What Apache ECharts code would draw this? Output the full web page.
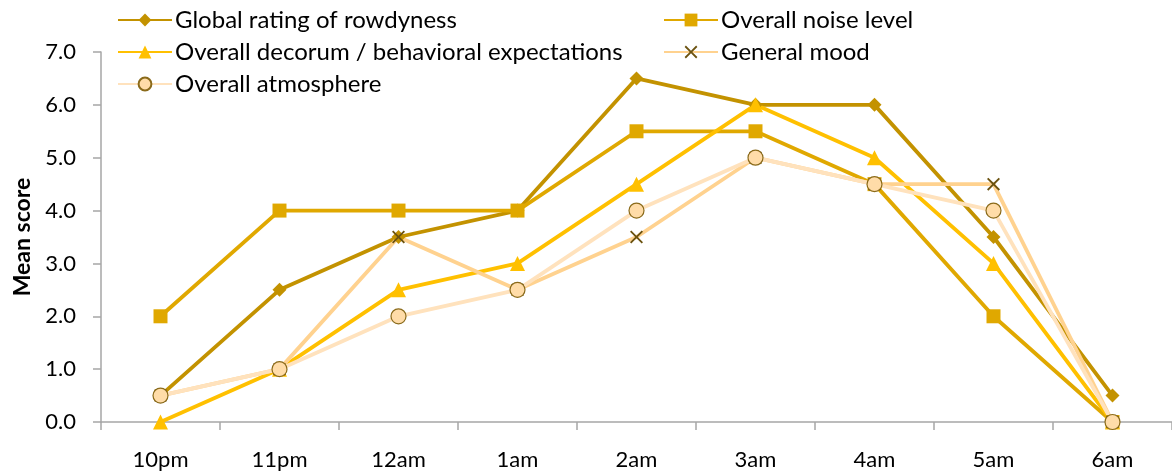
<!DOCTYPE html>
<html>
<head>
<meta charset="utf-8">
<script src="https://cdn.jsdelivr.net/npm/echarts@6/dist/echarts.min.js"></script>
<style>
  html, body { margin: 0; padding: 0; background: #fff; }
  #chart { width: 1172px; height: 473px; }
</style>
</head>
<body>
<div id="chart"></div>
<script>
// Hours of the night
const hours = ['10pm', '11pm', '12am', '1am', '2am', '3am', '4am', '5am', '6am'];

// Mean scores per hour
const rowdyness  = [0.5, 2.5, 3.5, 4.0, 6.5, 6.0, 6.0, 3.5, 0.5];
const noiseLevel = [2.0, 4.0, 4.0, 4.0, 5.5, 5.5, 4.5, 2.0, 0.0];
const decorum    = [0.0, 1.0, 2.5, 3.0, 4.5, 6.0, 5.0, 3.0, 0.0];
const mood       = [0.5, 1.0, 3.5, 2.5, 3.5, 5.0, 4.5, 4.5, 0.0];
const atmosphere = [0.5, 1.0, 2.0, 2.5, 4.0, 5.0, 4.5, 4.0, 0.0];

const names = [
  'Global rating of rowdyness',
  'Overall noise level',
  'Overall decorum / behavioral expectations',
  'General mood',
  'Overall atmosphere'
];

const FONT = 'Lato';
const crossPath = 'path://M0,1 L1,0 L5,4 L9,0 L10,1 L6,5 L10,9 L9,10 L5,6 L1,10 L0,9 L4,5 Z';

function lineSeries(name, data, color, symbol, size, itemStyle) {
  return {
    name: name,
    type: 'line',
    data: data,
    symbol: symbol,
    symbolSize: size,
    lineStyle: { color: color, width: 3.8 },
    itemStyle: Object.assign({ color: color }, itemStyle || {}),
    emphasis: { disabled: true },
    animation: false
  };
}

const legendText = { fontFamily: FONT, fontSize: 24, color: '#000', padding: [0, 0, 0, -2] };

const chart = echarts.init(document.getElementById('chart'));
chart.setOption({
  backgroundColor: '#ffffff',
  textStyle: { fontFamily: FONT },
  grid: { left: 101, right: 0, top: 52, bottom: 51, containLabel: false },
  legend: [
    {
      orient: 'vertical', left: 112, top: 3, itemGap: 8,
      itemWidth: 54, itemHeight: 16,
      textStyle: legendText,
      data: [names[0], names[2], names[4]]
    },
    {
      orient: 'vertical', left: 658, top: 3, itemGap: 8,
      itemWidth: 54, itemHeight: 16,
      textStyle: legendText,
      data: [names[1], names[3]]
    }
  ],
  xAxis: {
    type: 'category',
    data: hours,
    boundaryGap: true,
    axisLine: { lineStyle: { color: '#a6a6a6', width: 1.5 } },
    axisTick: { show: true, length: 8, lineStyle: { color: '#a6a6a6', width: 1.5 } },
    axisLabel: { fontFamily: FONT, fontSize: 22, color: '#000', margin: 27 },
    splitLine: { show: false }
  },
  yAxis: {
    type: 'value',
    min: 0, max: 7, interval: 1,
    name: 'Mean score',
    nameLocation: 'middle',
    nameGap: 60,
    nameTextStyle: { fontFamily: FONT, fontSize: 23, fontWeight: 'bold', color: '#000' },
    axisLine: { show: true, lineStyle: { color: '#a6a6a6', width: 1.5 } },
    axisTick: { show: true, length: 8, lineStyle: { color: '#a6a6a6', width: 1.5 } },
    axisLabel: { fontFamily: FONT, fontSize: 22, color: '#000', margin: 25,
      formatter: v => v.toFixed(1) },
    splitLine: { show: false }
  },
  series: [
    lineSeries(names[0], rowdyness, '#c39200', 'diamond', 14),
    lineSeries(names[1], noiseLevel, '#e0a800', 'rect', 14),
    lineSeries(names[2], decorum, '#ffc000', 'triangle', 15),
    lineSeries(names[3], mood, '#ffd28f', crossPath, 13,
      { color: '#6b5210' }),
    lineSeries(names[4], atmosphere, '#ffe2bd', 'circle', 15,
      { color: '#ffdca8', borderColor: '#8a6a1a', borderWidth: 1.2 })
  ]
});
</script>
</body>
</html>
